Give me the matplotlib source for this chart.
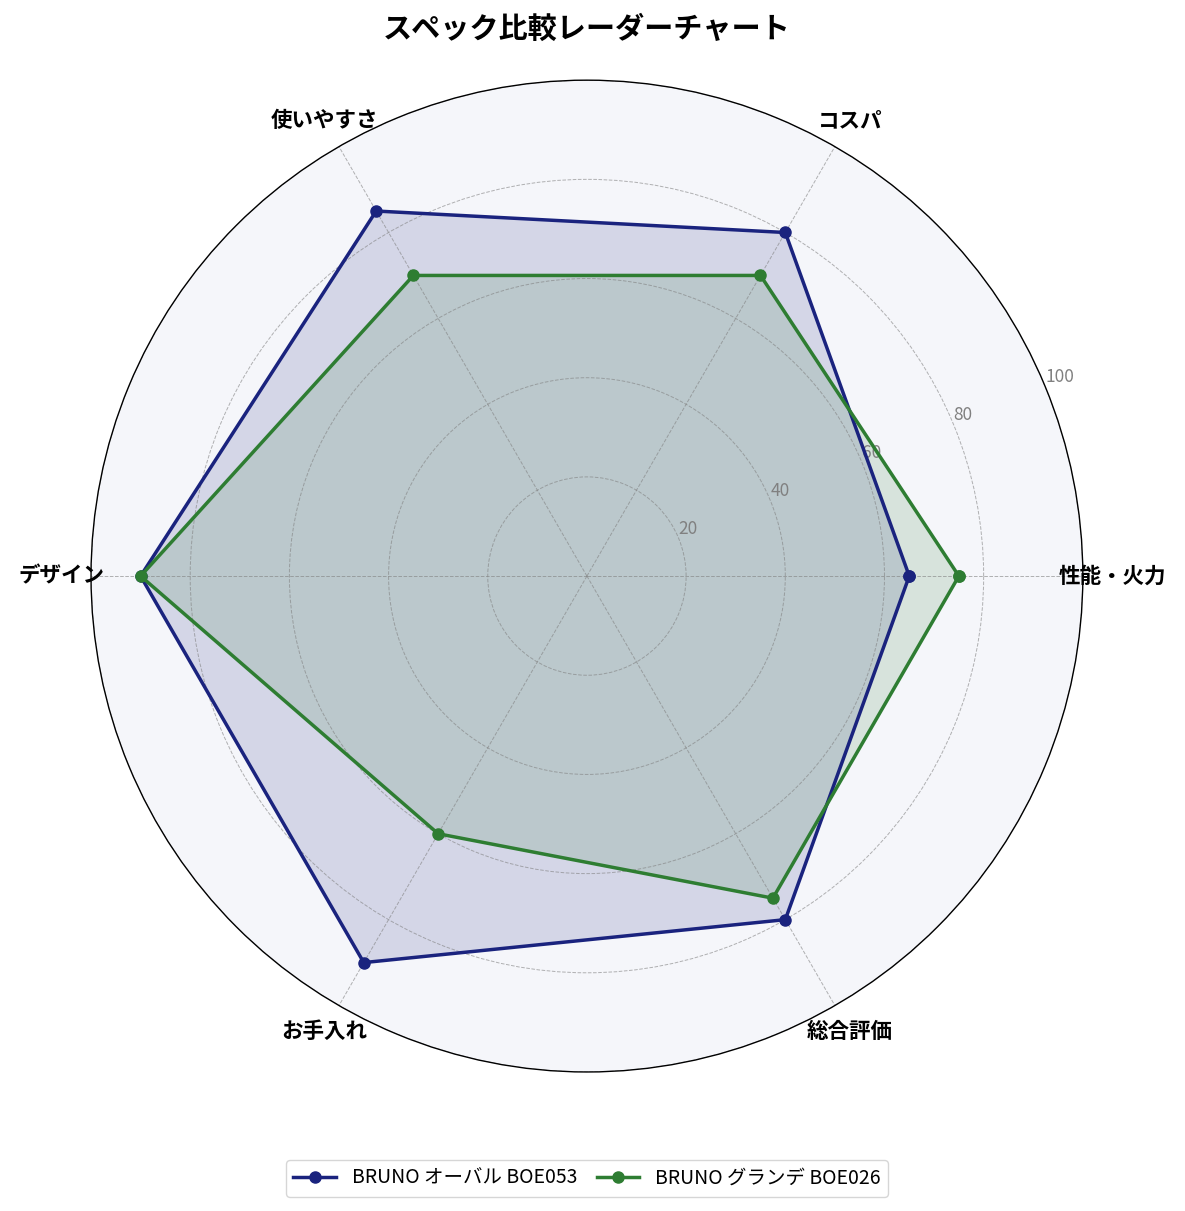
import numpy as np
import matplotlib
matplotlib.use("Agg")
import matplotlib.pyplot as plt

plt.rcParams['font.family'] = ['Noto Sans CJK JP', 'DejaVu Sans']

categories = ['性能・火力', 'コスパ', '使いやすさ', 'デザイン', 'お手入れ', '総合評価']
series_names = ['BRUNO オーバル BOE053', 'BRUNO グランデ BOE026']
values_oval = [65, 80, 85, 90, 90, 80]
values_grande = [75, 70, 70, 90, 60, 75]
colors = ['#1a237e', '#2e7d32']
rticks = [20, 40, 60, 80, 100]

fig = plt.figure(figsize=(11.85, 12.11), dpi=100)
ax = fig.add_axes([0.0768, 0.1148, 0.837, 0.819], polar=True)
ax.set_facecolor('#f5f6fa')

n = len(categories)
angles = np.linspace(0, 2 * np.pi, n, endpoint=False).tolist()
angles_c = angles + angles[:1]

for vals, name, col in zip([values_oval, values_grande], series_names, colors):
    v = list(vals) + vals[:1]
    ax.plot(angles_c, v, color=col, linewidth=2.5, marker='o', markersize=8, label=name)
    ax.fill(angles_c, v, color=col, alpha=0.15)

ax.set_ylim(0, 100)
ax.set_yticks(rticks)
ax.set_yticklabels([str(t) for t in rticks], color='gray', fontsize=12.5)
ax.set_rlabel_position(22.5)
ax.set_xticks(angles)
ax.set_xticklabels(categories, fontsize=15.5, fontweight='bold')
ax.tick_params(axis='x', pad=11)
ax.grid(True, linestyle='--', color='gray', alpha=0.6, linewidth=0.7)
ax.spines['polar'].set_color('black')
ax.spines['polar'].set_linewidth(1.0)

fig.text(0.4954, 0.976, 'スペック比較レーダーチャート', ha='center', va='center',
         fontsize=21, fontweight='bold')

fig.legend(loc='center', bbox_to_anchor=(0.4954, 0.027), ncol=2, fontsize=14,
           frameon=True, handlelength=2.2, columnspacing=1.0)

fig.savefig('out.png', dpi=100)
